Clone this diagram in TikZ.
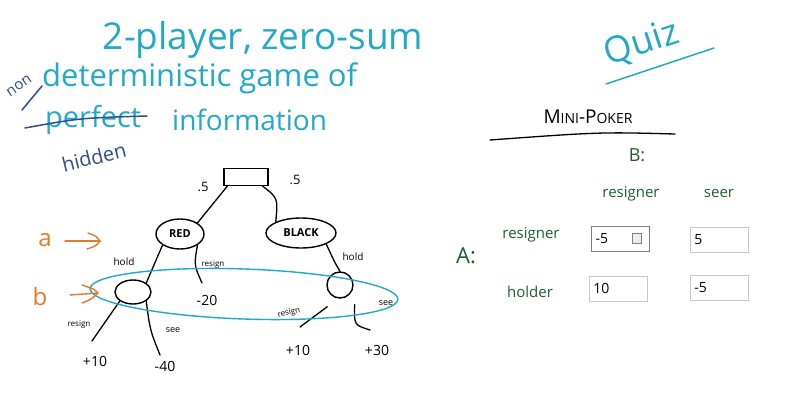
\documentclass[tikz,border=0pt]{standalone}
\usepackage{fontspec}
\setmainfont{Open Sans}
\usetikzlibrary{shapes.geometric,arrows.meta}
\definecolor{cy}{HTML}{22A8C8}
\definecolor{dblue}{HTML}{2E4E8F}
\definecolor{org}{HTML}{E07A2E}
\definecolor{grn}{HTML}{1E5E2E}
\definecolor{boxline}{HTML}{C8C8C8}
\tikzset{
  cyt/.style={text=cy, inner sep=0pt},
  dbt/.style={text=dblue, inner sep=0pt},
  gt/.style={text=grn, inner sep=0pt},
  blk/.style={text=black, inner sep=0pt},
  edge/.style={draw=black, line width=1.3pt, line cap=round},
  tnode/.style={draw=black, line width=1.4pt, ellipse, inner sep=1pt},
  lbl/.style={inner sep=0pt, font=\fontsize{10}{10}\selectfont},
  val/.style={inner sep=0pt, font=\fontsize{14}{14}\selectfont},
  inbox/.style={draw=boxline, line width=0.8pt, minimum width=58pt, minimum height=25pt, anchor=west, text width=50pt, align=left, font=\fontsize{14}{14}\selectfont, inner sep=4pt},
  orr/.style={draw=org, line width=1.4pt, line cap=round},
}
\begin{document}
\begin{tikzpicture}[x=1pt,y=-1pt]
\useasboundingbox[fill=white] (0,0) rectangle (790,404);
% title lines
\node[cyt, font=\fontsize{37}{37}\selectfont] (t1) at (263,40) {2-player, zero-sum};
\node[cyt, font=\fontsize{31}{31}\selectfont, anchor=west] (t2) at (42,78) {deterministic game of};
\node[cyt, font=\fontsize{29}{29}\selectfont, anchor=west] (t3) at (45,120) {perfect};
\node[cyt, font=\fontsize{28}{28}\selectfont, anchor=west] (t4) at (172,120) {information};
\node[dbt, font=\fontsize{15}{15}\selectfont, rotate=35] (non) at (19,86) {non};
\draw[dblue, line width=1.5pt, line cap=round] (22,110) -- (42,86);
\draw[dblue, line width=1.5pt, line cap=round] (25,128) .. controls (80,118) .. (147,116);
\node[dbt, font=\fontsize{20}{20}\selectfont, rotate=14] (hid) at (94,157) {hidden};
% tree
\node[draw=black, line width=1.4pt, minimum width=44pt, minimum height=17pt, inner sep=0pt] (root) at (246,177) {};
\node[blk, font=\fontsize{13}{13}\selectfont] (p1) at (203,187) {.5};
\node[blk, font=\fontsize{13}{13}\selectfont] (p2) at (295,180) {.5};
\node[tnode, minimum width=48pt, minimum height=30pt, font=\fontsize{11}{11}\selectfont\bfseries] (red) at (180,234) {RED};
\node[tnode, minimum width=70pt, minimum height=30pt, font=\fontsize{11}{11}\selectfont\bfseries] (black) at (301,233) {BLACK};
\draw[edge] (root.south west) ++(4,0) coordinate (r1) (r1) -- (red.north east);
\draw[edge] (root.south east) ++(-6,0) coordinate (r2) (r2) .. controls (278,198) .. (black.north west);
\node[tnode, minimum width=36pt, minimum height=24pt] (bl) at (133,292) {};
\node[tnode, circle, minimum size=26pt] (br) at (340,285) {};
\draw[edge] (red.south west) -- (bl.north east);
\coordinate (rs) at (202,283);
\draw[edge] (red.south east) .. controls (194,265) .. (rs);
\node[lbl] (holdl) at (124,262) {hold};
\node[lbl, font=\fontsize{8}{8}\selectfont] (resr) at (213,265) {resign};
\node[val] (m20) at (207,300) {-20};
\draw[edge] (black.south east) .. controls (336,265) .. (br.north);
\node[lbl] (holdr) at (353,257) {hold};
% left b subtree
\coordinate (l1) at (92,341);
\coordinate (l2) at (160,355);
\draw[edge] (bl.south west) -- (l1);
\draw[edge] (bl.south east) .. controls (150,330) .. (l2);
\node[lbl, font=\fontsize{8}{8}\selectfont] (resl) at (79,325) {resign};
\node[lbl, font=\fontsize{9}{9}\selectfont] (seel) at (173,330) {see};
\node[val] (v1) at (95,361) {+10};
\node[val] (v2) at (165,366) {-40};
% right b subtree
\coordinate (r3) at (300,327);
\coordinate (r4) at (370,330);
\draw[edge] (br.south west) ++(-3,12) coordinate (r5) (r5) -- (r3);
\draw[edge] (br.south east) ++(5,10) coordinate (r6) (r6) .. controls (354,325) .. (r4);
\node[lbl, font=\fontsize{8}{8}\selectfont, rotate=12] (resr2) at (289,313) {resign};
\node[lbl, font=\fontsize{9}{9}\selectfont] (seer2) at (386,303) {see};
\node[val] (v3) at (298,350) {+10};
\node[val] (v4) at (377,350) {+30};
% cyan information set
\draw[cy, line width=1.4pt] (244,294) ellipse [x radius=154pt, y radius=25pt, rotate=-2];
% a and b markers
\node[text=org, inner sep=0pt, font=\fontsize{24}{24}\selectfont] (a) at (45,240) {a};
\node[text=org, inner sep=0pt, font=\fontsize{24}{24}\selectfont] (b) at (40,296) {b};
\coordinate (ae) at (100,241);
\coordinate (be) at (98,293);
\draw[orr] (65,241) -- (ae);
\draw[orr] (88,233) .. controls (96,236) .. (ae) .. controls (96,246) .. (87,249);
\draw[orr] (70,295) -- (be);
\draw[orr] (82,285) .. controls (94,289) .. (be) .. controls (92,299) .. (82,303);
% quiz
\node[cyt, font=\fontsize{36}{36}\selectfont, rotate=18] (quiz) at (642,44) {Quiz};
\draw[cy, line width=1.5pt, line cap=round] (606,84) -- (714,48);
% mini-poker
\node[blk, font=\fontsize{19}{19}\selectfont] (mp) at (588,117) {M{\fontsize{14}{14}\selectfont INI}-P{\fontsize{14}{14}\selectfont OKER}};
\draw[black, line width=1.3pt, line cap=round] (490,140) .. controls (600,132) .. (675,134);
\node[gt, font=\fontsize{18}{18}\selectfont] (B) at (637,155) {B:};
\node[gt, font=\fontsize{15}{15}\selectfont] (cr) at (631,194) {resigner};
\node[gt, font=\fontsize{15}{15}\selectfont] (cs) at (719,193) {seer};
\node[gt, font=\fontsize{22}{22}\selectfont] (A) at (466,256) {A:};
\node[gt, font=\fontsize{15}{15}\selectfont] (rr) at (531,235) {resigner};
\node[gt, font=\fontsize{15}{15}\selectfont] (rh) at (530,292) {holder};
% input boxes
\node[inbox, draw=gray, line width=1pt] (b11) at (591,239) {-5};
\node[draw=gray, line width=0.8pt, minimum width=9pt, minimum height=10pt, inner sep=0pt, fill=gray!15] (icon) at (637,238) {};
\node[inbox] (b12) at (690,239.5) {5};
\node[inbox] (b21) at (589,288.5) {10};
\node[inbox] (b22) at (690,288) {-5};
\end{tikzpicture}
\end{document}
